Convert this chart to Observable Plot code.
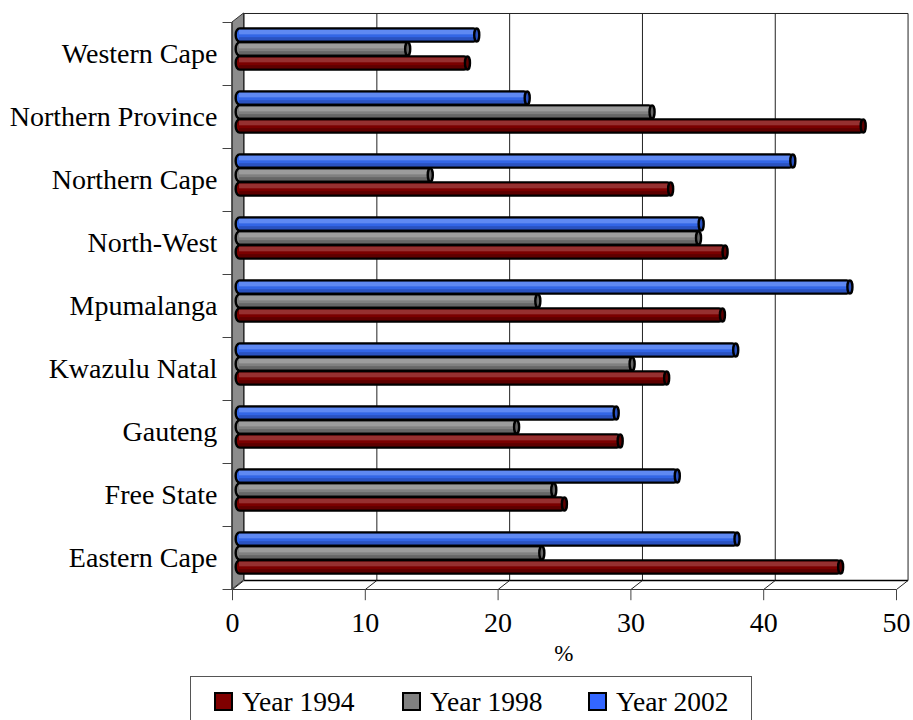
<!DOCTYPE html>
<html><head><meta charset="utf-8">
<script src="https://cdn.jsdelivr.net/npm/d3@7"></script>
<script src="https://cdn.jsdelivr.net/npm/@observablehq/plot@0.6"></script>
<style>
html,body{margin:0;padding:0;background:#fff;overflow:hidden;height:720px}
#legend{position:absolute;left:190px;top:676px;width:560px;height:60px;border:1px solid #555;font:27.5px "Liberation Serif",serif;color:#000}
.it{position:absolute;top:9px;line-height:32px;height:32px;white-space:nowrap}
.sw{position:absolute;left:0;top:6px;width:15px;height:15px;border:2px solid #000}
.lb{position:absolute;left:28px;top:0}
</style></head><body><div id="chart"></div><div id="legend"></div>
<script>
const provinces=["Eastern Cape","Free State","Gauteng","Kwazulu Natal","Mpumalanga","North-West","Northern Cape","Northern Province","Western Cape"];
const year1994=[45.5,24.7,28.9,32.4,36.6,36.8,32.7,47.2,17.4];
const year1998=[23.0,23.9,21.1,29.8,22.7,34.8,14.6,31.3,12.9];
const year2002=[37.7,33.2,28.6,37.6,46.2,35.0,41.9,21.9,18.1];
const seriesNames=["Year 1994","Year 1998","Year 2002"];
const seriesColors=["#800000","#808080","#3366ff"];
const barColors=["#7a0000","#808080","#3366e6"];
const seriesLight=["#a04040","#a6a6a6","#6f95f5"];
const seriesDark=["#5e0000","#666666","#2a52c0"];
const xTicks=[0,10,20,30,40,50];

const depthX=0.87, depthY=0.143, barDx=0.38, barDy=0.072;
const halfBar=0.104, pitch=0.222;
const rows=[];
[year1994,year1998,year2002].forEach((vals,s)=>vals.forEach((v,i)=>rows.push({
  v:v+barDx,s,c:i+0.5+barDy+(s-1)*pitch
})));
const idx=d3.range(provinces.length);
const boundaries=d3.range(provinces.length+1);
const left=[{x:0,y1:0,y2:9},{x:depthX,y1:depthY,y2:9+depthY}];

const chart=Plot.plot({
  width:913,height:672,
  style:{fontFamily:'"Liberation Serif",serif',background:"#fff",overflow:"visible"},
  x:{domain:[0,50],range:[232,896],axis:null},
  y:{domain:[0,9],range:[589,22],axis:null},
  marks:[
    Plot.areaY(left,{x:"x",y1:"y1",y2:"y2",fill:"#8c8c8c",stroke:"#333",strokeWidth:1}),
    // back wall grid and border
    Plot.link(xTicks,{x1:d=>d+depthX,x2:d=>d+depthX,y1:depthY,y2:9+depthY,stroke:"#222",strokeWidth:1}),
    Plot.link([0],{x1:depthX,x2:50+depthX,y1:depthY,y2:depthY,stroke:"#000",strokeWidth:1.5}),
    Plot.link([0],{x1:depthX,x2:50+depthX,y1:9+depthY,y2:9+depthY,stroke:"#222",strokeWidth:1}),
    // floor
    Plot.link(xTicks,{x1:d=>d,x2:d=>d+depthX,y1:0,y2:depthY,stroke:"#222",strokeWidth:1}),
    Plot.link([0],{x1:0,x2:50,y1:0,y2:0,stroke:"#333",strokeWidth:1}),
    // axes ticks
    Plot.link(xTicks,{x1:d=>d,x2:d=>d,y1:0,y2:-0.17,stroke:"#444",strokeWidth:1}),
    Plot.link(boundaries,{x1:-0.75,x2:0,y1:d=>d,y2:d=>d,stroke:"#444",strokeWidth:1}),
    Plot.link([0],{x1:0,x2:0,y1:0,y2:9,stroke:"#444",strokeWidth:1}),
    // bars
    Plot.rect(rows,{x1:barDx-0.1,x2:"v",y1:d=>d.c-halfBar,y2:d=>d.c+halfBar,fill:d=>barColors[d.s],stroke:"#000",strokeWidth:2.4,rx:4,ry:6}),
    Plot.rect(rows,{x1:barDx+0.15,x2:"v",y1:d=>d.c+0.01,y2:d=>d.c+0.085,fill:d=>seriesLight[d.s],fillOpacity:0.75}),
    Plot.rect(rows,{x1:barDx+0.15,x2:"v",y1:d=>d.c-0.085,y2:d=>d.c-0.035,fill:d=>seriesDark[d.s]}),
    Plot.rect(rows,{x1:d=>d.v-0.24,x2:d=>d.v+0.14,y1:d=>d.c-halfBar,y2:d=>d.c+halfBar,fill:d=>seriesDark[d.s],stroke:"#000",strokeWidth:2.4,rx:3,ry:7}),
    // labels
    Plot.text(xTicks,{x:d=>d,y:-0.53,text:d=>String(d),fontSize:28,fill:"#000"}),
    Plot.text(idx,{x:-1.14,y:d=>d+0.5,text:d=>provinces[d],textAnchor:"end",fontSize:28,fill:"#000"}),
    Plot.text(["%"],{x:24.95,y:-1.02,text:d=>d,fontSize:23,fill:"#000"})
  ]
});
document.getElementById("chart").appendChild(chart);
const lg=document.getElementById("legend");
const itemLefts=[23,211,397];
seriesNames.forEach((n,i)=>{
  const it=document.createElement("div");it.className="it";
  it.style.left=itemLefts[i]+"px";
  const sw=document.createElement("span");sw.className="sw";sw.style.background=seriesColors[i];
  const lb=document.createElement("span");lb.className="lb";lb.textContent=n;
  it.appendChild(sw);it.appendChild(lb);lg.appendChild(it);
});
</script></body></html>
